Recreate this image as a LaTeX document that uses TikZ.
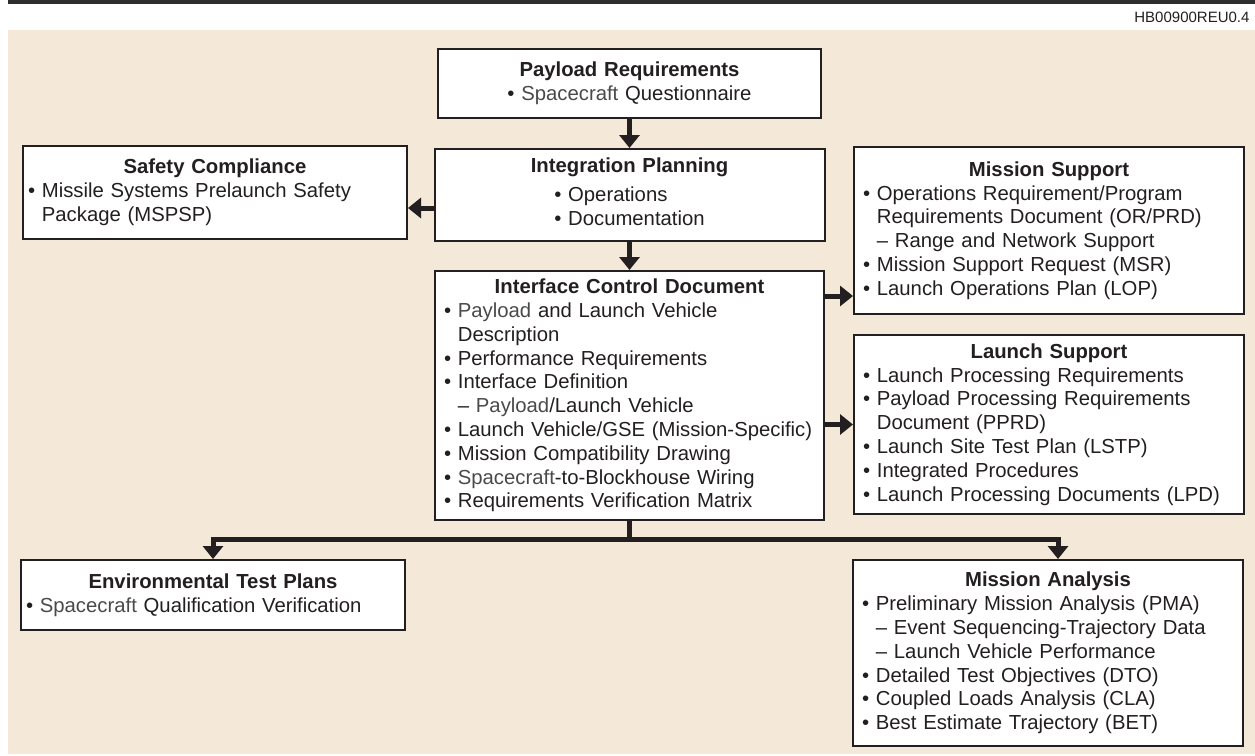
\documentclass[tikz,border=0pt]{standalone}
\usepackage{fontspec}
\setmainfont{Liberation Sans}
\usetikzlibrary{positioning,arrows.meta}

\definecolor{ink}{HTML}{231F20}
\definecolor{soft}{HTML}{4A4A4A}
\definecolor{sand}{HTML}{F4E8D8}
\definecolor{rulegray}{HTML}{2E2E2E}

\newcommand\pl[1]{\textcolor{soft}{#1}}
\newcommand\ttl[1]{\makebox[\linewidth]{\bfseries #1}\\}
\newcommand\ind{\hphantom{\textbullet\ }}
\newcommand\bul{\textbullet\ }

\begin{document}
\begin{tikzpicture}[x=1pt,y=-1pt,every node/.style={font=\fontsize{20.3}{23.8}\selectfont,text=ink}]
\tikzstyle{box}=[draw=ink,line width=2pt,fill=white,inner xsep=9pt,inner ysep=4pt,anchor=north west,align=left]
\tikzstyle{arr}=[draw=ink,line width=5pt,-{Triangle[width=20pt,length=13pt]}]
\useasboundingbox (0,0) rectangle (1255,755);
\fill[sand] (8,30) rectangle (1255,754);
\draw[rulegray,line width=3.5pt] (8,1.75) -- (1255,1.75);
\node[anchor=base east,font=\fontsize{15}{18}\selectfont] (tag) at (1253,22) {HB00900REU0.4};

% centre column
\node[box,align=center,minimum width=383pt,minimum height=69pt,text width=365pt] (payload) at (437,48)
  {{\bfseries Payload Requirements}\\ \bul\pl{Spacecraft} Questionnaire};
\node[box,align=center,minimum width=390pt,minimum height=92pt,text width=372pt,below=29pt of payload] (plan)
  {{\bfseries Integration Planning}\\[5pt]
   \begin{tabular}[t]{@{}l@{}}\bul Operations\\ \bul Documentation\end{tabular}};
\node[box,minimum width=389pt,minimum height=249pt,text width=371pt,below=28pt of plan] (icd)
  {\ttl{Interface Control Document}
   \bul\pl{Payload} and Launch Vehicle\\ \ind Description\\
   \bul Performance Requirements\\
   \bul Interface Definition\\ \ind -- \pl{Payload}/Launch Vehicle\\
   \bul Launch Vehicle/GSE (Mission-Specific)\\
   \bul Mission Compatibility Drawing\\
   \bul\pl{Spacecraft}-to-Blockhouse Wiring\\
   \bul Requirements Verification Matrix};

% side boxes
\node[box,inner xsep=5pt,minimum width=384pt,minimum height=93pt,text width=374pt] (safety) at (22,145)
  {\ttl{Safety Compliance}
   \bul Missile Systems Prelaunch Safety\\ \ind Package (MSPSP)};
\node[box,minimum width=390pt,minimum height=167pt,text width=372pt] (support) at (853,146)
  {\ttl{Mission Support}
   \bul Operations Requirement/Program\\ \ind Requirements Document (OR/PRD)\\
   \ind -- Range and Network Support\\
   \bul Mission Support Request (MSR)\\
   \bul Launch Operations Plan (LOP)};
\node[box,minimum width=390pt,minimum height=179pt,text width=372pt] (launch) at (853,334)
  {\ttl{Launch Support}
   \bul Launch Processing Requirements\\
   \bul Payload Processing Requirements\\ \ind Document (PPRD)\\
   \bul Launch Site Test Plan (LSTP)\\
   \bul Integrated Procedures\\
   \bul Launch Processing Documents (LPD)};
\node[box,inner xsep=5pt,minimum width=384pt,minimum height=70pt,text width=374pt] (envtest) at (20,559)
  {\ttl{Environmental Test Plans}
   \bul\pl{Spacecraft} Qualification Verification};
\node[box,minimum width=390pt,minimum height=186pt,text width=372pt] (analysis) at (852,559)
  {\ttl{Mission Analysis}
   \bul Preliminary Mission Analysis (PMA)\\
   \ind -- Event Sequencing-Trajectory Data\\
   \ind -- Launch Vehicle Performance\\
   \bul Detailed Test Objectives (DTO)\\
   \bul Coupled Loads Analysis (CLA)\\
   \bul Best Estimate Trajectory (BET)};

% connectors
\coordinate (safety-in) at ([yshift=-13pt]plan.west);
\coordinate (support-in) at ([yshift=-26pt]icd.north east);
\draw[arr] (payload) -- (plan);
\draw[arr] (plan) -- (icd);
\draw[arr] (safety-in) -- (safety-in -| safety.east);
\draw[arr] (support-in) -- (support-in -| support.west);
\draw[arr] (icd.east |- launch.west) -- (launch.west);
\draw[draw=ink,line width=5pt] (icd.south) -- ++(0,18) coordinate (fork);
\draw[arr] (fork) -| (envtest.north);
\draw[arr] (fork) -| ([xshift=10pt]analysis.north);
\end{tikzpicture}
\end{document}
